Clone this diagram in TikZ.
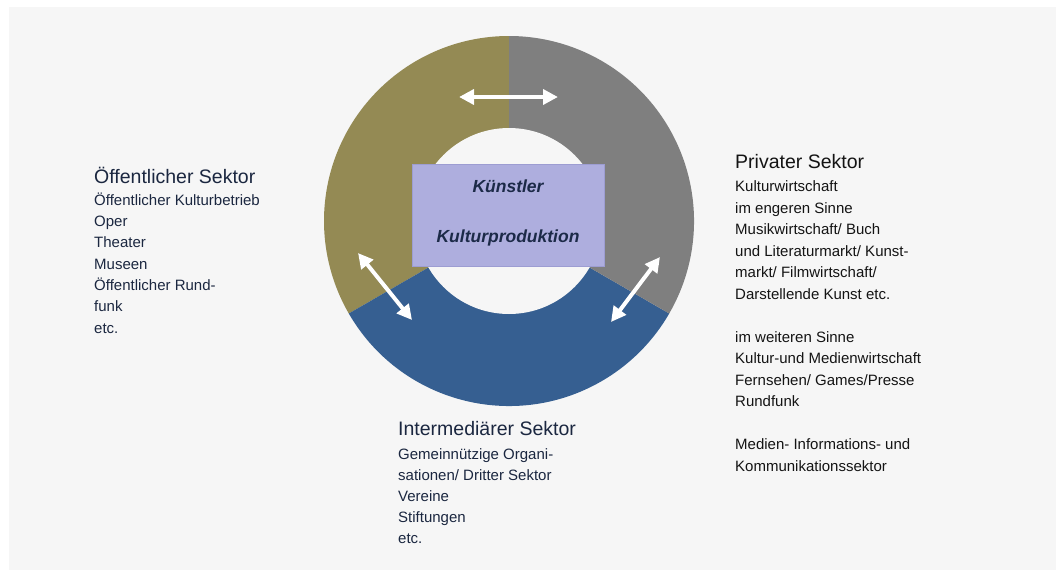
\documentclass[tikz,border=0pt]{standalone}
\usepackage{fontspec}
\setmainfont{Liberation Sans}
\usetikzlibrary{arrows.meta,calc}
\definecolor{bgc}{HTML}{F6F6F6}
\definecolor{olivec}{HTML}{948A54}
\definecolor{grayc}{HTML}{7F7F7F}
\definecolor{bluec}{HTML}{365F91}
\definecolor{boxc}{HTML}{AEAEDE}
\definecolor{boxline}{HTML}{9D9DD2}
\definecolor{navytxt}{HTML}{1B2740}
\definecolor{boxtxt}{HTML}{1C2A48}
\definecolor{blacktxt}{HTML}{141414}
\begin{document}
\begin{tikzpicture}[x=1pt,y=-1pt,
  hd/.style={font=\fontsize{19.5}{22}\selectfont, inner sep=0pt, anchor=base west},
  bd/.style={font=\fontsize{15}{21.3}\selectfont, inner sep=0pt, align=left, anchor=base west},
  dar/.style={white, line width=4pt, {Triangle[length=15pt,width=15pt]}-{Triangle[length=15pt,width=15pt]}},
  dsh/.style={black, opacity=0.22, line width=4pt, {Triangle[length=15pt,width=15pt]}-{Triangle[length=15pt,width=15pt]}},
  kbox/.style={fill=boxc, draw=boxline, line width=0.8pt, minimum width=192pt, minimum height=102pt, inner sep=0pt},
  ktext/.style={align=center, text=boxtxt, inner sep=0pt, font=\fontsize{17.5}{50}\selectfont\bfseries\itshape}
]
\useasboundingbox (0,0) rectangle (1056,570);
\fill[bgc] (9,7) rectangle (1056,570);
\coordinate (C) at (509,221);
% ring
\fill[olivec] (C) -- ($(C)+(-90:185)$) arc[start angle=-90,end angle=-210,radius=185] -- cycle;
\fill[bluec] (C) -- ($(C)+(-210:185)$) arc[start angle=-210,end angle=-330,radius=185] -- cycle;
\fill[grayc] (C) -- ($(C)+(-330:185)$) arc[start angle=-330,end angle=-450,radius=185] -- cycle;
\fill[bgc] (C) circle[radius=93];
% central box
\node[kbox] (kb) at (508,215) {};
\node[ktext, anchor=base] (kt) at (508,242) {Künstler\\Kulturproduktion};
% arrows
\coordinate (t1) at (459,97);
\coordinate (t2) at (558,97);
\coordinate (l1) at (358,253);
\coordinate (l2) at (412,320);
\coordinate (r1) at (660,257);
\coordinate (r2) at (611,322);
\begin{scope}[shift={(2,3)}]
\draw[dsh] (t1) -- (t2);
\draw[dsh] (l1) -- (l2);
\draw[dsh] (r1) -- (r2);
\end{scope}
\draw[dar] (t1) -- (t2);
\draw[dar] (l1) -- (l2);
\draw[dar] (r1) -- (r2);
% left text (base anchor = last line baseline)
\node[hd, text=navytxt] (oh) at (94,183) {Öffentlicher Sektor};
\node[bd, text=navytxt] (ob) at (94,333) {Öffentlicher Kulturbetrieb\\Oper\\Theater\\Museen\\Öffentlicher Rund-\\funk\\etc.};
% middle text
\node[hd, text=navytxt] (ih) at (398,435) {Intermediärer Sektor};
\node[bd, text=navytxt, font=\fontsize{15}{21}\selectfont] (ib) at (398,543) {Gemeinnützige Organi-\\sationen/ Dritter Sektor\\Vereine\\Stiftungen\\etc.};
% right text
\node[hd, text=blacktxt] (ph) at (735,168) {Privater Sektor};
\node[bd, text=blacktxt, font=\fontsize{15}{21.5}\selectfont] (pb) at (735,471) {Kulturwirtschaft\\im engeren Sinne\\Musikwirtschaft/ Buch\\und Literaturmarkt/ Kunst-\\markt/ Filmwirtschaft/\\Darstellende Kunst etc.\\[21.5pt]im weiteren Sinne\\Kultur-und Medienwirtschaft\\Fernsehen/ Games/Presse\\Rundfunk\\[21.5pt]Medien- Informations- und\\Kommunikationssektor};
\end{tikzpicture}
\end{document}
